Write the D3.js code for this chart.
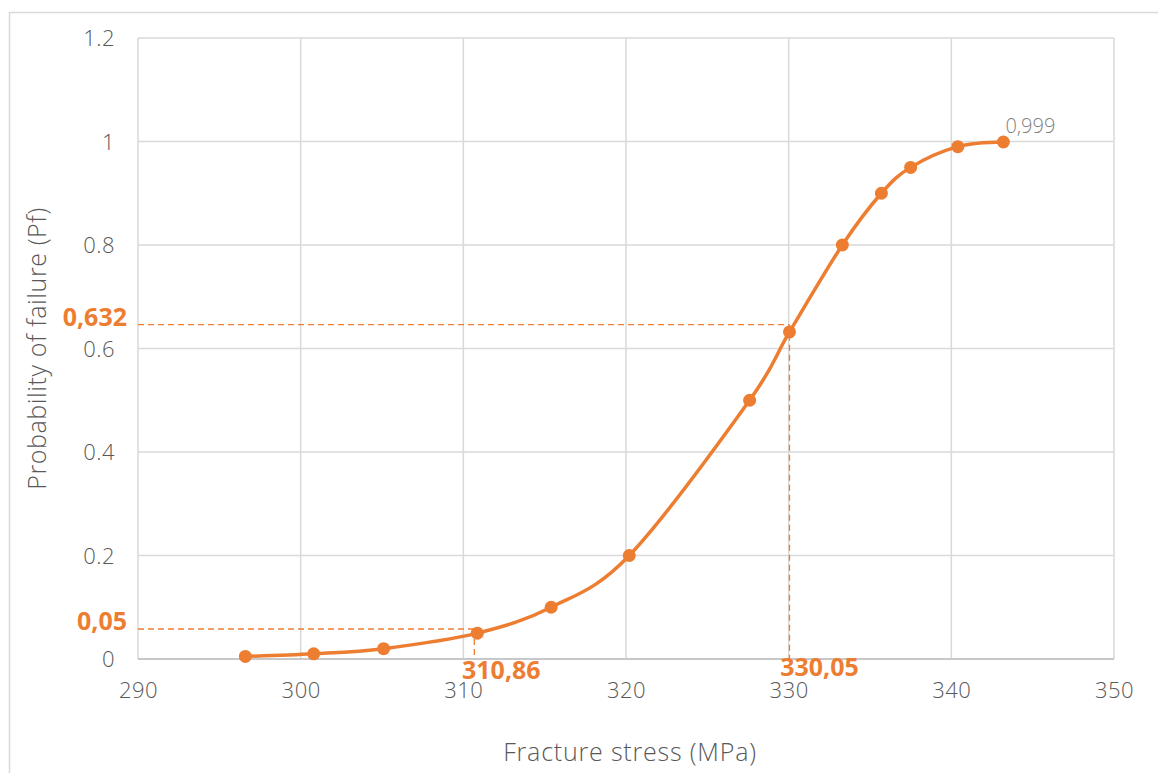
<!DOCTYPE html>
<html>
<head>
<meta charset="utf-8">
<script src="https://cdn.jsdelivr.net/npm/d3@7"></script>
<style>
  html, body { margin: 0; padding: 0; background: #fff; }
  svg { display: block; font-family: "Open Sans", "DejaVu Sans", sans-serif; }
</style>
</head>
<body>
<svg id="chart" width="1158" height="773"></svg>
<script>
// Data
const stress = [296.6, 300.8, 305.1, 310.86, 315.4, 320.2, 327.6, 330.05, 333.3, 335.7, 337.5, 340.4, 343.2];
const probability = [0.005, 0.01, 0.02, 0.05, 0.1, 0.2, 0.5, 0.632, 0.8, 0.9, 0.95, 0.99, 0.999];
const xTicks = [290, 300, 310, 320, 330, 340, 350];
const yTicks = [0, 0.2, 0.4, 0.6, 0.8, 1, 1.2];
const yTickLabels = ["0", "0.2", "0.4", "0.6", "0.8", "1", "1.2"];
// Guide annotations (as drawn in the picture)
const guideX = [310.86, 330.05];
const guideY = [0.058, 0.646];
const guideXLabels = ["310,86", "330,05"];
const guideYLabels = ["0,05", "0,632"];
const lastLabel = "0,999";

const orange = "#ED7D31";
const grid = "#d9d9d9";
const textGray = "#595959";

const svg = d3.select("#chart");
const margin = { left: 138, right: 1114, top: 38, bottom: 659 };

const x = d3.scaleLinear().domain([290, 350]).range([margin.left, margin.right]);
const y = d3.scaleLinear().domain([0, 1.2]).range([margin.bottom, margin.top]);

// Outer chart border (extends beyond the visible area)
svg.append("rect")
  .attr("x", 9.5).attr("y", 12.5)
  .attr("width", 1170).attr("height", 780)
  .attr("fill", "none").attr("stroke", grid).attr("stroke-width", 1.5);

// Gridlines
const g = svg.append("g");
g.selectAll("line.vg").data(xTicks).join("line")
  .attr("x1", d => x(d)).attr("x2", d => x(d))
  .attr("y1", margin.top).attr("y2", margin.bottom)
  .attr("stroke", grid).attr("stroke-width", 1.5);
g.selectAll("line.hg").data(yTicks).join("line")
  .attr("x1", margin.left).attr("x2", margin.right)
  .attr("y1", d => y(d)).attr("y2", d => y(d))
  .attr("stroke", grid).attr("stroke-width", 1.5);

// Axis base line
svg.append("line")
  .attr("x1", margin.left).attr("x2", margin.right)
  .attr("y1", y(0)).attr("y2", y(0))
  .attr("stroke", "#bfbfbf").attr("stroke-width", 1.5);

// Axes (labels only)
const xAxis = d3.axisBottom(x).tickValues(xTicks).tickSize(0).tickPadding(0).tickFormat(d3.format("d"));
const xa = svg.append("g").attr("transform", `translate(0,${y(0)})`).call(xAxis);
xa.select(".domain").remove();
xa.selectAll("text")
  .attr("y", 31).attr("dy", "0.35em")
  .attr("fill", textGray).attr("font-size", 22).attr("font-weight", 300)
  .attr("letter-spacing", 0.5)
  .attr("font-family", "'Open Sans', sans-serif");

const yAxis = d3.axisLeft(y).tickValues(yTicks).tickSize(0).tickPadding(0)
  .tickFormat((d, i) => yTickLabels[i]);
const ya = svg.append("g").attr("transform", `translate(${margin.left - 23},0)`).call(yAxis);
ya.select(".domain").remove();
ya.selectAll("text")
  .attr("dy", "0.35em")
  .attr("fill", textGray).attr("font-size", 22).attr("font-weight", 300)
  .attr("letter-spacing", 0.5)
  .attr("font-family", "'Open Sans', sans-serif");

// Guide dashed lines
const pts = stress.map((s, i) => ({ s, p: probability[i] }));
guideY.forEach((gy, i) => {
  svg.append("line")
    .attr("x1", margin.left).attr("x2", x(guideX[i]))
    .attr("y1", y(gy)).attr("y2", y(gy))
    .attr("stroke", orange).attr("stroke-width", 1.3).attr("stroke-dasharray", "6,4");
  svg.append("line")
    .attr("x1", x(guideX[i]) - (i === 0 ? 3 : 0)).attr("x2", x(guideX[i]) - (i === 0 ? 3 : 0))
    .attr("y1", y(gy)).attr("y2", y(0))
    .attr("stroke", orange).attr("stroke-width", 1.3).attr("stroke-dasharray", "6,4");
});

// Smoothed line
const line = d3.line()
  .x(d => x(d.s)).y(d => y(d.p))
  .curve(d3.curveCatmullRom.alpha(0));
svg.append("path").datum(pts)
  .attr("d", line)
  .attr("fill", "none").attr("stroke", orange).attr("stroke-width", 3.5)
  .attr("stroke-linecap", "round");

// Markers
svg.selectAll("circle.pt").data(pts).join("circle")
  .attr("cx", d => x(d.s)).attr("cy", d => y(d.p)).attr("r", 6.5)
  .attr("fill", orange);

// Guide labels
const boldFont = "'Open Sans', sans-serif";
svg.selectAll("text.gy").data(guideYLabels).join("text")
  .attr("x", 127)
  .attr("y", (d, i) => y(guideY[i]) + 1)
  .attr("text-anchor", "end")
  .attr("font-family", boldFont).attr("font-weight", 700).attr("font-size", 25)
  .attr("fill", orange)
  .text(d => d);

svg.selectAll("text.gx").data(guideXLabels).join("text")
  .attr("x", (d, i) => x(guideX[i]) + (i === 0 ? 24 : 30))
  .attr("y", (d, i) => i === 0 ? 679 : 676)
  .attr("text-anchor", "middle")
  .attr("font-family", boldFont).attr("font-weight", 700).attr("font-size", 25)
  .attr("fill", orange)
  .text(d => d);

// Last point label
const last = pts[pts.length - 1];
svg.append("text")
  .attr("x", x(last.s) + 2).attr("y", y(last.p) - 16)
  .attr("dy", "0.35em")
  .attr("font-size", 20).attr("font-weight", 300).attr("fill", "#7f7f7f")
  .text(lastLabel);

// Axis titles
svg.append("text")
  .attr("x", (margin.left + margin.right) / 2 + 4).attr("y", 752)
  .attr("dy", "0.35em").attr("text-anchor", "middle")
  .attr("font-size", 25).attr("font-weight", 300).attr("letter-spacing", 0.8).attr("fill", textGray)
  .text("Fracture stress (MPa)");
svg.append("text")
  .attr("transform", `translate(37,${(margin.top + margin.bottom) / 2}) rotate(-90)`)
  .attr("dy", "0.35em").attr("text-anchor", "middle")
  .attr("font-size", 25).attr("font-weight", 300).attr("letter-spacing", 0.6).attr("fill", textGray)
  .text("Probability of failure (Pf)");
</script>
</body>
</html>
